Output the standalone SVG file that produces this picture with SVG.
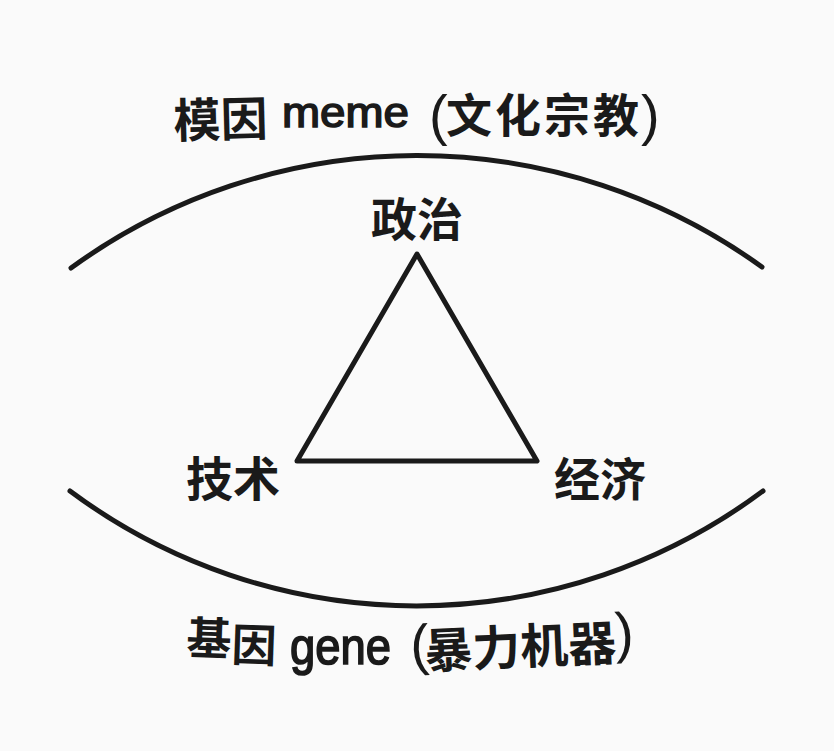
<svg xmlns="http://www.w3.org/2000/svg" width="834" height="751" viewBox="0 0 834 751">
<style>
.cjk{font-family:"Noto Sans CJK SC","Noto Sans",sans-serif;font-weight:bold;fill:#1a1a1a}
.lat{font-family:"Liberation Sans","Noto Sans",sans-serif;font-weight:normal;fill:#1a1a1a;stroke:#1a1a1a;stroke-width:1.5}
.par{font-family:"Liberation Sans","Noto Sans",sans-serif;font-weight:normal;fill:#1a1a1a;font-size:56px}
.ln{fill:none;stroke:#1a1a1a;stroke-width:5;stroke-linecap:round;stroke-linejoin:round}
</style>
<rect width="834" height="751" fill="#fafafa"/>
<g id="connectors">
<path class="ln" d="M71,268 A589,589 0 0 1 762,267"/>
<path class="ln" d="M70,491 A580,580 0 0 0 763,491"/>
</g>
<g id="triangle">
<path class="ln" d="M417,254 L537,461 L297,461 Z"/>
</g>
<g id="meme">
<text class="cjk" font-size="47" transform="rotate(-1.5 175 138)" x="174" y="138">模因</text>
<text class="lat" x="282" y="127" font-size="42" textLength="127" lengthAdjust="spacingAndGlyphs">meme</text>
<text class="par" x="429" y="134">(</text>
<text class="cjk" x="446" y="132" font-size="46" letter-spacing="3">文化宗教</text>
<text class="par" x="641" y="134">)</text>
</g>
<g id="gene">
<text class="cjk" transform="rotate(2 186 655)" x="186" y="654" font-size="45">基</text>
<text class="cjk" transform="rotate(2 231 661)" x="231" y="661" font-size="45">因</text>
<text class="lat" transform="translate(290,664) scale(1,1.12)" font-size="47" textLength="101" lengthAdjust="spacingAndGlyphs">gene</text>
<g transform="rotate(-2.5 415 665)">
<text class="par" x="411" y="664">(</text>
<text class="cjk" x="425" y="669" font-size="48">暴力机器</text>
<text class="par" x="616" y="661">)</text>
</g>
</g>
<g id="zhengzhi"><text class="cjk" x="371" y="236" font-size="46">政治</text></g>
<g id="jishu"><text class="cjk" x="186" y="496" font-size="47">技术</text></g>
<g id="jingji"><text class="cjk" x="554" y="496" font-size="46">经济</text></g>
</svg>
